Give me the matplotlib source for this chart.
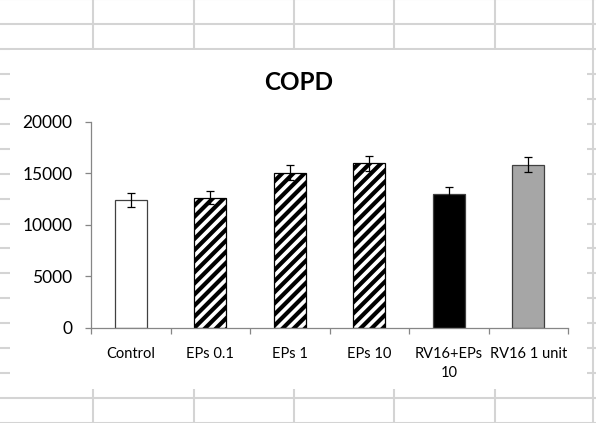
import matplotlib.pyplot as plt
import numpy as np
from matplotlib.lines import Line2D
from matplotlib.patches import Rectangle

W, H = 596, 423

groups = ['Control', 'EPs 0.1', 'EPs 1', 'EPs 10', 'RV16+EPs\n10', 'RV16 1 unit']
values = [12400, 12620, 15050, 15960, 12950, 15800]
errors = [650, 650, 750, 700, 680, 730]
fills = ['white', 'white', 'white', 'white', 'black', '#A6A6A6']
hatches = ['', '///', '///', '///', '', '']

plt.rcParams['font.family'] = ['Lato', 'DejaVu Sans']
plt.rcParams['hatch.linewidth'] = 3.0

fig = plt.figure(figsize=(W / 100, H / 100), dpi=100)

def fx(px):
    return px / W

def fy(py):
    return 1 - py / H

# spreadsheet cell grid behind the chart
grid_col = '#D4D4D4'
for py in np.arange(-1, 424, 24.95):
    fig.add_artist(Line2D([0, 1], [fy(py), fy(py)], transform=fig.transFigure,
                          color=grid_col, lw=1.5, zorder=-3))
for px in [93, 193.5, 294, 394, 494.5, 593]:
    fig.add_artist(Line2D([fx(px), fx(px)], [0, 1], transform=fig.transFigure,
                          color=grid_col, lw=1.5, zorder=-3))

# white chart area
fig.add_artist(Rectangle((fx(10), fy(389)), fx(587) - fx(10), fy(50) - fy(389),
                         transform=fig.transFigure, facecolor='white',
                         edgecolor='none', zorder=-2))

ax = fig.add_axes([fx(91), fy(327.7), fx(568) - fx(91), fy(121.7) - fy(327.7)])
ax.set_facecolor('none')

x = np.arange(len(groups))
for i in range(len(groups)):
    ax.bar(x[i], values[i], width=0.40, color=fills[i], hatch=hatches[i],
           edgecolor='black' if hatches[i] else '#404040', linewidth=0.9, zorder=2)
ax.errorbar(x, values, yerr=errors, fmt='none', ecolor='black', elinewidth=0.9,
            capsize=3, capthick=0.9, zorder=3)

ax.set_xlim(-0.5, len(groups) - 0.5)
ax.set_ylim(0, 20000)
ax.set_yticks([0, 5000, 10000, 15000, 20000])
ax.set_yticklabels(['0', '5000', '10000', '15000', '20000'])

ax.set_xticks(x)
ax.set_xticklabels(groups, fontsize=10.5, linespacing=1.45)
ax.set_xticks(np.arange(-0.5, len(groups)), minor=True)
ax.tick_params(axis='x', which='major', length=0, pad=14)
ax.tick_params(axis='x', which='minor', length=4.5, color='#868686', width=0.9)
ax.tick_params(axis='y', length=4.5, color='#868686', width=0.9, labelsize=12.5, pad=9)

for s in ['top', 'right']:
    ax.spines[s].set_visible(False)
for s in ['left', 'bottom']:
    ax.spines[s].set_color('#868686')
    ax.spines[s].set_linewidth(0.9)

fig.text(fx(299), fy(83), 'COPD', ha='center', va='center', fontsize=17.5,
         fontweight='bold')

fig.savefig('out.png', dpi=100)
